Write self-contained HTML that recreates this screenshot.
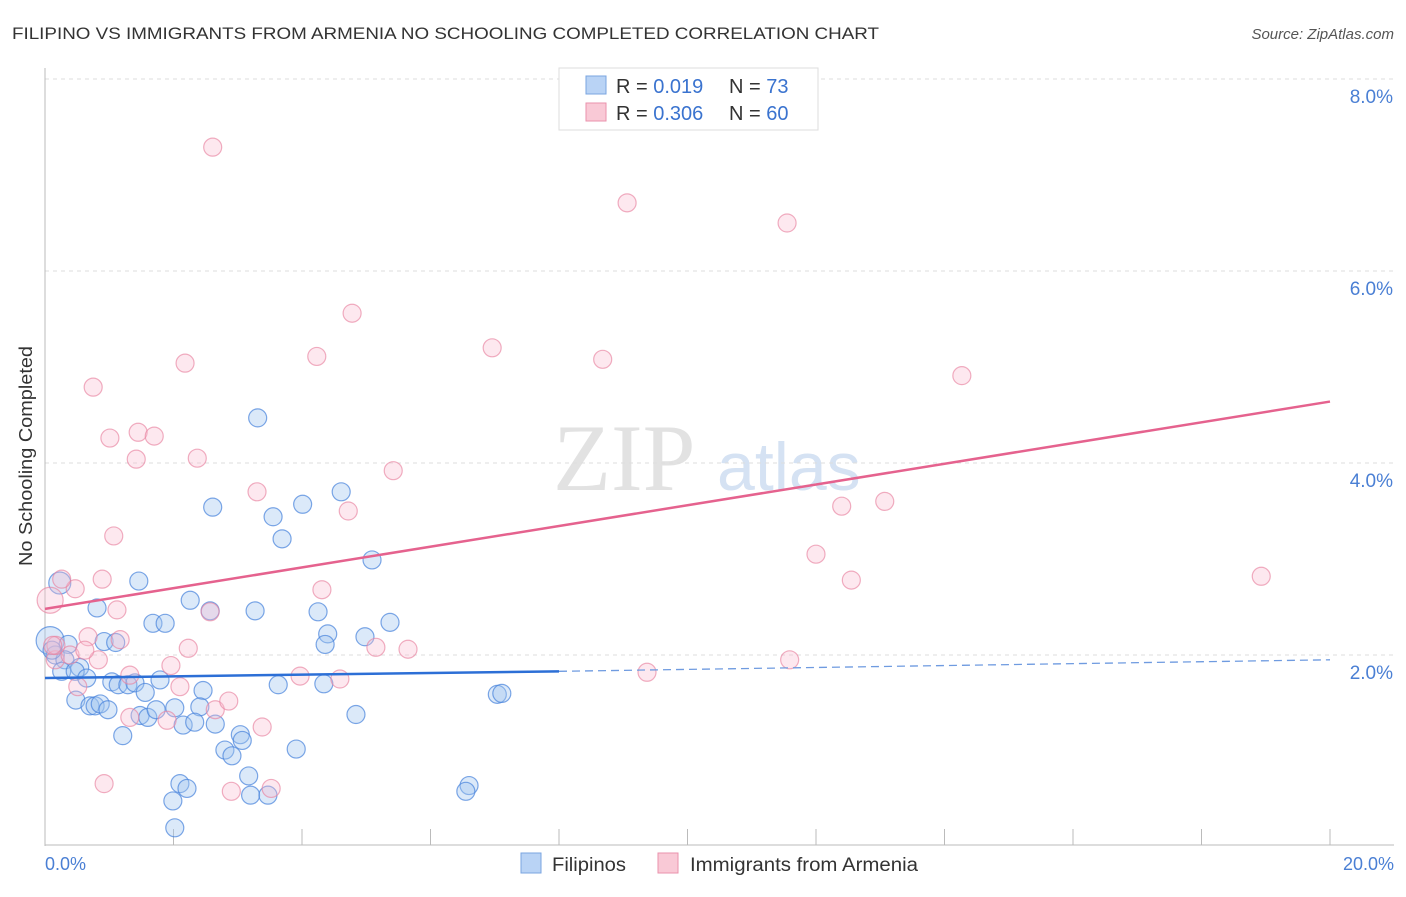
<!DOCTYPE html>
<html><head><meta charset="utf-8"><style>
body{margin:0;background:#fff;font-family:"Liberation Sans",sans-serif;}
</style></head><body>
<svg width="1406" height="892" font-family="Liberation Sans, sans-serif">
<text x="12" y="39" font-size="17" fill="#333" textLength="867" lengthAdjust="spacingAndGlyphs">FILIPINO VS IMMIGRANTS FROM ARMENIA NO SCHOOLING COMPLETED CORRELATION CHART</text>
<text x="1394" y="39" font-size="15" fill="#555" font-style="italic" text-anchor="end">Source: ZipAtlas.com</text>
<text x="553" y="490" font-size="95" fill="#e2e2e2" style="font-family:'Liberation Serif',serif">ZIP</text>
<text x="717" y="490" font-size="68" fill="#d5e2f3">atlas</text>
<g id="grid"></g>
<line x1="45" y1="68" x2="45" y2="846" stroke="#bbb"/>
<line x1="45" y1="845" x2="1394" y2="845" stroke="#bbb"/>
<g id="marks"></g>
<text x="32" y="456" font-size="18" fill="#333" text-anchor="middle" textLength="220" lengthAdjust="spacingAndGlyphs" transform="rotate(-90 32 456)">No Schooling Completed</text>
<text x="45" y="870" font-size="18" fill="#4a7fd4">0.0%</text>
<text x="1394" y="870" font-size="18" fill="#4a7fd4" text-anchor="end">20.0%</text>
<g>
<rect x="559" y="68" width="259" height="62" fill="#fff" stroke="#ddd"/>
<rect x="586" y="76" width="20" height="18" fill="#b9d3f5" stroke="#7aa5e0"/>
<rect x="586" y="103" width="20" height="18" fill="#f9c9d6" stroke="#ea92ac"/>
<text x="616" y="93" font-size="20" fill="#333">R = <tspan fill="#3a73cf">0.019</tspan><tspan x="729">N = </tspan><tspan fill="#3a73cf">73</tspan></text>
<text x="616" y="120" font-size="20" fill="#333">R = <tspan fill="#3a73cf">0.306</tspan><tspan x="729">N = </tspan><tspan fill="#3a73cf">60</tspan></text>
</g>
<g>
<rect x="521" y="853" width="20" height="20" fill="#b9d3f5" stroke="#7aa5e0"/>
<text x="552" y="871" font-size="19" fill="#333" textLength="74" lengthAdjust="spacingAndGlyphs">Filipinos</text>
<rect x="658" y="853" width="20" height="20" fill="#f9c9d6" stroke="#ea92ac"/>
<text x="690" y="871" font-size="19" fill="#333" textLength="228" lengthAdjust="spacingAndGlyphs">Immigrants from Armenia</text>
</g>
</svg>
<script>
const yTicks=[2,4,6,8];
const yTickLabels=["2.0%","4.0%","6.0%","8.0%"];
const xTicks=[0,2,4,6,8,10,12,14,16,18,20];
const blueX=[0.23,0.08,0.81,1.46,1.68,1.87,0.92,1.1,0.36,0.16,0.31,0.54,0.26,0.47,0.65,1.04,1.14,1.29,1.4,1.56,1.79,2.26,2.57,3.27,4.25,4.4,4.36,4.98,5.37,2.46,2.02,2.41,1.48,1.6,1.73,2.15,2.33,2.65,3.04,3.07,2.8,2.91,3.91,4.84,3.63,4.34,7.04,7.11,0.48,0.7,0.78,0.86,0.98,1.21,3.17,3.2,3.47,2.1,2.21,1.99,2.02,6.6,6.55,2.61,3.55,3.69,4.01,4.61,5.09,3.31,0.11];
const blueY=[2.75,2.15,2.49,2.77,2.33,2.33,2.14,2.13,2.11,2.0,1.95,1.87,1.83,1.83,1.76,1.72,1.69,1.69,1.71,1.61,1.74,2.57,2.46,2.46,2.45,2.22,2.11,2.19,2.34,1.63,1.45,1.46,1.37,1.35,1.43,1.27,1.30,1.28,1.17,1.11,1.01,0.95,1.02,1.38,1.69,1.70,1.59,1.60,1.53,1.47,1.47,1.49,1.43,1.16,0.74,0.54,0.54,0.66,0.61,0.48,0.2,0.64,0.58,3.54,3.44,3.21,3.57,3.70,2.99,4.47,2.05];
const blueR=[11,14,9,9,9,9,9,9,9,9,9,9,9,9,9,9,9,9,9,9,9,9,9,9,9,9,9,9,9,9,9,9,9,9,9,9,9,9,9,9,9,9,9,9,9,9,9,9,9,9,9,9,9,9,9,9,9,9,9,9,9,9,9,9,9,9,9,9,9,9,9];
const pinkX=[2.61,9.06,11.55,4.78,4.23,6.96,8.68,14.27,2.18,0.75,1.01,1.45,1.7,1.42,2.37,3.3,5.42,4.72,12.4,13.07,12.0,12.55,18.93,1.07,0.89,0.47,0.26,4.31,2.57,1.12,0.67,1.17,2.23,5.15,5.65,0.08,0.83,0.16,0.39,1.96,1.32,3.97,4.59,9.37,11.59,2.1,0.51,2.65,2.86,1.32,1.9,3.38,0.92,2.9,3.52,0.17,0.12,0.62];
const pinkY=[7.29,6.71,6.5,5.56,5.11,5.2,5.08,4.91,5.04,4.79,4.26,4.32,4.28,4.04,4.05,3.7,3.92,3.5,3.55,3.6,3.05,2.78,2.82,3.24,2.79,2.69,2.79,2.68,2.45,2.47,2.19,2.16,2.07,2.08,2.06,2.57,1.95,1.95,2.0,1.89,1.79,1.78,1.75,1.82,1.95,1.67,1.67,1.43,1.52,1.35,1.32,1.25,0.66,0.58,0.61,2.10,2.10,2.05];
const pinkR=[9,9,9,9,9,9,9,9,9,9,9,9,9,9,9,9,9,9,9,9,9,9,9,9,9,9,9,9,9,9,9,9,9,9,9,13,9,9,9,9,9,9,9,9,9,9,9,9,9,9,9,9,9,9,9,9,9,9];
const blueLine=[[0,1.76],[8.0,1.83],[20,1.95]];
const pinkLine=[[0,2.48],[20,4.64]];
const sx=v=>45+v/20*1285, sy=v=>847-v*96;
const NS="http://www.w3.org/2000/svg";
const grid=document.getElementById('grid'), marks=document.getElementById('marks');
function mk(tag,attrs,parent){const e=document.createElementNS(NS,tag);for(const k in attrs)e.setAttribute(k,attrs[k]);parent.appendChild(e);return e;}
yTicks.forEach((t,i)=>{
 const l=mk('line',{x1:45,x2:1394,y1:sy(t),y2:sy(t),stroke:'#ddd','stroke-dasharray':'4,4'},grid);
 
 
 const tx=mk('text',{x:1393,y:sy(t)+24,'font-size':19,fill:'#4a7fd4','text-anchor':'end'},grid);
 tx.textContent=yTickLabels[i];
 
 
});
xTicks.forEach(t=>{
 const l=mk('line',{x1:sx(t),x2:sx(t),y1:829,y2:845,stroke:'#bbb'},grid);
 
 
});
blueX.forEach((x,i)=>{
 const c=mk('circle',{cx:sx(x),cy:sy(blueY[i]),r:blueR[i],fill:'rgba(160,196,240,0.38)',stroke:'rgba(70,130,220,0.7)','stroke-width':1.2},marks);
 
 
});
pinkX.forEach((x,i)=>{
 const c=mk('circle',{cx:sx(x),cy:sy(pinkY[i]),r:pinkR[i],fill:'rgba(248,190,208,0.35)',stroke:'rgba(232,130,160,0.65)','stroke-width':1.2},marks);
 
 
});
const b1=mk('line',{x1:sx(blueLine[0][0]),y1:sy(blueLine[0][1]),x2:sx(blueLine[1][0]),y2:sy(blueLine[1][1]),stroke:'#2c6fd6','stroke-width':2.5},marks);


const b2=mk('line',{x1:sx(blueLine[1][0]),y1:sy(blueLine[1][1]),x2:sx(blueLine[2][0]),y2:sy(blueLine[2][1]),stroke:'#6f9be0','stroke-width':1.3,'stroke-dasharray':'8,5'},marks);


const p1=mk('line',{x1:sx(pinkLine[0][0]),y1:sy(pinkLine[0][1]),x2:sx(pinkLine[1][0]),y2:sy(pinkLine[1][1]),stroke:'#e5628e','stroke-width':2.5},marks);


</script>
</body></html>
